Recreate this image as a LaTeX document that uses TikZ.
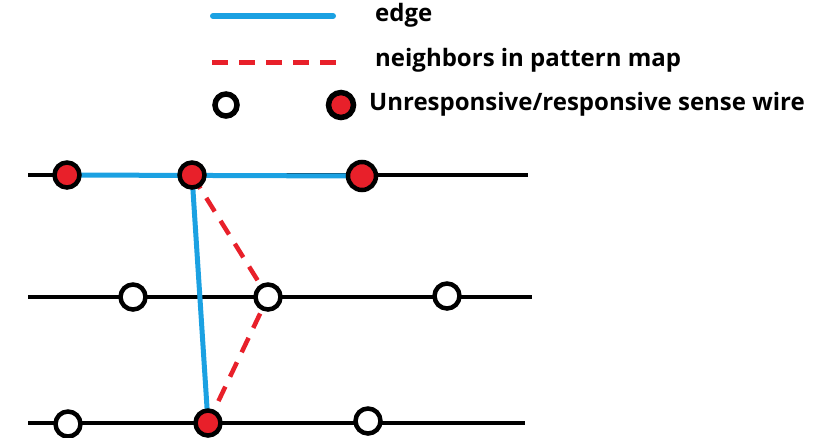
\documentclass[tikz,border=0pt]{standalone}
\usepackage{fontspec}
\setmainfont{Open Sans}
\begin{document}
\begin{tikzpicture}[x=1pt,y=-1pt,
  wire/.style={line width=4.5pt},
  edgeline/.style={line width=5pt,color=edgeblue},
  nbline/.style={line width=4.5pt,color=nbred,dash pattern=on 16pt off 11pt},
  offwire/.style={circle,draw=black,line width=4.5pt,fill=white,minimum size=25pt,inner sep=0pt},
  onwire/.style={circle,draw=black,line width=4.5pt,fill=nbred,minimum size=25pt,inner sep=0pt},
  lbl/.style={anchor=west,inner sep=0pt,font=\fontsize{24}{28}\selectfont\bfseries}
]
\definecolor{edgeblue}{HTML}{1BA1E2}
\definecolor{nbred}{HTML}{E8202A}
\useasboundingbox (0,0) rectangle (837,437);
% legend
\coordinate (lb1) at (213,16); \coordinate (lb2) at (333,16);
\draw[edgeline,line width=6pt,line cap=round] (lb1) -- (lb2);
\node[lbl] (t1) at (375,15) {edge};
\coordinate (lr1) at (212,62); \coordinate (lr2) at (337,62);
\draw[nbline,line width=5pt] (lr1) -- (lr2);
\node[lbl] (t2) at (375,60) {neighbors in pattern map};
\node[offwire,line width=5.5pt,minimum size=22pt] (lo) at (226,105) {};
\node[onwire,line width=5.5pt,minimum size=25pt] (lf) at (341,105) {};
\node[lbl] (t3) at (369,104) {Unresponsive/responsive sense wire};
% wires
\coordinate (w1a) at (28,175); \coordinate (w1b) at (528,175);
\coordinate (w2a) at (28,297); \coordinate (w2b) at (532,297);
\coordinate (w3a) at (28,423); \coordinate (w3b) at (525,423);
\draw[wire] (w1a) -- (w1b);
\draw[wire] (w2a) -- (w2b);
\draw[wire] (w3a) -- (w3b);
% node positions
\coordinate (a1) at (67,175); \coordinate (a2) at (192,175); \coordinate (a3) at (362,176);
\coordinate (b1) at (133,297); \coordinate (b2) at (268,297); \coordinate (b3) at (447,296);
\coordinate (c1) at (68,424); \coordinate (c2) at (208,423); \coordinate (c3) at (368,421);
% edges
\draw[edgeline] (a1) -- (a3);
\draw[edgeline] (a2) -- (c2);
\draw[nbline] (a2) -- (b2) -- (c2);
% sense wires
\node[onwire] (n1) at (a1) {};
\node[onwire] (n2) at (a2) {};
\node[onwire,minimum size=28pt] (n3) at (a3) {};
\node[offwire] (m1) at (b1) {};
\node[offwire] (m2) at (b2) {};
\node[offwire] (m3) at (b3) {};
\node[offwire] (p1) at (c1) {};
\node[onwire] (p2) at (c2) {};
\node[offwire] (p3) at (c3) {};
\end{tikzpicture}
\end{document}
